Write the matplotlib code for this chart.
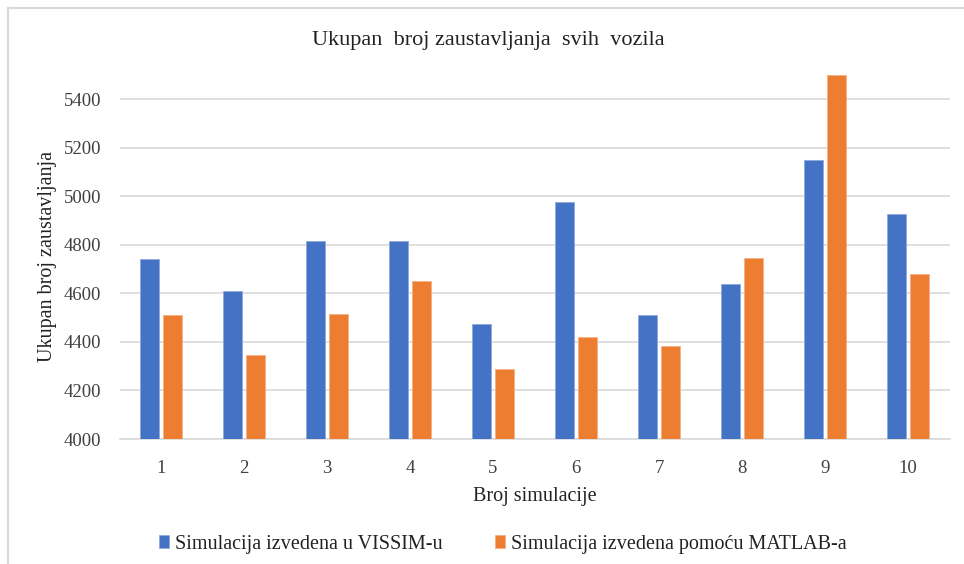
import matplotlib
matplotlib.use("Agg")
import matplotlib.pyplot as plt
import numpy as np
from matplotlib.lines import Line2D

categories = ["1", "2", "3", "4", "5", "6", "7", "8", "9", "10"]
vissim = [4741, 4610, 4814, 4814, 4472, 4975, 4510, 4640, 5149, 4926]
matlab = [4510, 4348, 4517, 4653, 4287, 4419, 4382, 4745, 5501, 4678]
yticks = [4000, 4200, 4400, 4600, 4800, 5000, 5200, 5400]
series_names = ["Simulacija izvedena u VISSIM-u", "Simulacija izvedena pomoću MATLAB-a"]

plt.rcParams['font.family'] = ['Liberation Serif', 'DejaVu Serif']

W, H = 964, 564
fig = plt.figure(figsize=(W/100, H/100), dpi=100)
ax = fig.add_axes([119.5/W, 1-439/H, (949.5-119.5)/W, (439-75)/H])

x = np.arange(len(categories))
w = 0.23
ax.bar(x - 0.14, vissim, w, color="#4472C4", edgecolor="#8FAADC", linewidth=0.6, label=series_names[0], zorder=3)
ax.bar(x + 0.14, matlab, w, color="#ED7D31", edgecolor="#F4B183", linewidth=0.6, label=series_names[1], zorder=3)

ax.set_xlim(-0.5, len(categories) - 0.5)
ax.set_ylim(4000, 5500)
ax.set_yticks(yticks)
ax.set_yticklabels([str(t) for t in yticks], fontsize=13.5, color="#404040")
ax.set_xticks(x)
ax.set_xticklabels(categories, fontsize=13.5, color="#404040")
ax.tick_params(axis='y', length=0, pad=13)
ax.tick_params(axis='x', length=0, pad=15)
ax.grid(axis='y', color="#D9D9D9", linewidth=1.2, zorder=0)
for s in ["top", "right", "left"]:
    ax.spines[s].set_visible(False)
ax.spines["bottom"].set_color("#D9D9D9")
ax.spines["bottom"].set_linewidth(1.2)

ax.set_xlabel("Broj simulacije", fontsize=14.5, color="#222222", labelpad=7)
ax.set_ylabel("Ukupan broj zaustavljanja", fontsize=14.5, color="#222222", labelpad=5)
fig.text(488/W, 1-40/H, "Ukupan  broj zaustavljanja  svih  vozila", fontsize=16,
         ha="center", va="center", color="#222222")

leg = fig.legend(loc="center", bbox_to_anchor=(503/W, 1-544/H), ncol=2, frameon=False,
                 fontsize=14.5, handlelength=0.5, handleheight=0.6, handletextpad=0.3,
                 columnspacing=2.6)
for t in leg.get_texts():
    t.set_color("#222222")

# chart border (top and left)
fig.add_artist(Line2D([8/W, 8/W], [0, 1-8/H], transform=fig.transFigure, color="#D9D9D9", linewidth=1.5))
fig.add_artist(Line2D([8/W, 1], [1-8/H, 1-8/H], transform=fig.transFigure, color="#D9D9D9", linewidth=1.5))

fig.savefig("out.png", dpi=100)
